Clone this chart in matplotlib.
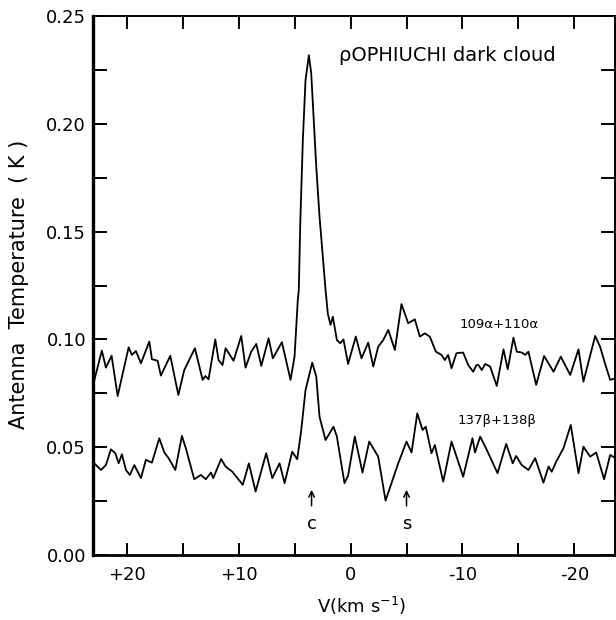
import numpy as np
import matplotlib.pyplot as plt
from matplotlib.ticker import MultipleLocator

# velocity (km/s) and antenna temperature (K)
v_alpha = [23.04, 22.21, 21.85, 21.34, 20.80, 19.82, 19.53, 19.17, 18.72, 17.97,
           17.74, 17.23, 16.94, 16.10, 15.38, 14.85, 13.90, 13.21, 12.97, 12.68,
           12.08, 11.79, 11.43, 11.16, 10.45, 9.76, 9.38, 8.87, 8.42, 7.97,
           7.32, 6.94, 6.13, 5.36, 5.00, 4.71, 4.62, 4.49, 4.26, 4.02,
           3.72, 3.51, 3.06, 2.77, 2.23, 2.03, 1.79, 1.58, 1.22, 0.92,
           0.63, 0.22, -0.47, -0.98, -1.58, -2.03, -2.47, -2.92, -3.37, -3.96,
           -4.55, -5.15, -5.74, -6.19, -6.63, -7.08, -7.62, -8.13, -8.42, -8.72,
           -9.02, -9.46, -10.06, -10.51, -10.96, -11.25, -11.43, -11.72, -12.03, -12.47,
           -13.06, -13.66, -14.04, -14.55, -14.85, -15.29, -15.60, -15.89, -16.58, -17.29,
           -18.13, -18.78, -19.62, -20.36, -20.80, -21.85, -22.29, -22.74, -23.19, -23.66]
t_alpha = [0.0779, 0.0948, 0.0869, 0.0924, 0.0737, 0.0963, 0.0928, 0.0946, 0.0889, 0.0990,
           0.0908, 0.0901, 0.0832, 0.0924, 0.0742, 0.0858, 0.0959, 0.0812, 0.0830, 0.0815,
           0.1000, 0.0904, 0.0881, 0.0959, 0.0901, 0.1016, 0.0869, 0.0943, 0.0979, 0.0877,
           0.1005, 0.0912, 0.0987, 0.0812, 0.0920, 0.1183, 0.1229, 0.1538, 0.1925, 0.2203,
           0.2319, 0.2234, 0.1800, 0.1570, 0.1229, 0.1120, 0.1067, 0.1105, 0.0997, 0.0982,
           0.1000, 0.0886, 0.1013, 0.0912, 0.0985, 0.0874, 0.0966, 0.0997, 0.1044, 0.0951,
           0.1164, 0.1075, 0.1093, 0.1013, 0.1028, 0.1013, 0.0943, 0.0928, 0.0904, 0.0928,
           0.0866, 0.0936, 0.0939, 0.0881, 0.0850, 0.0881, 0.0881, 0.0858, 0.0886, 0.0874,
           0.0784, 0.0954, 0.0861, 0.1008, 0.0943, 0.0939, 0.0928, 0.0943, 0.0789, 0.0923,
           0.0850, 0.0920, 0.0835, 0.0954, 0.0804, 0.1016, 0.0966, 0.0886, 0.0812, 0.0820]

v_beta = [23.04, 22.29, 21.85, 21.40, 21.01, 20.71, 20.42, 20.06, 19.71, 19.31,
          18.72, 18.28, 17.74, 17.08, 16.63, 16.25, 15.65, 15.06, 14.71, 13.96,
          13.37, 12.92, 12.47, 12.26, 11.56, 11.16, 10.56, 9.62, 9.08, 8.48,
          7.53, 6.99, 6.34, 5.89, 5.21, 4.76, 4.40, 4.02, 3.42, 3.06,
          2.77, 2.23, 1.52, 1.22, 0.54, 0.22, -0.38, -1.07, -1.67, -2.47,
          -3.13, -4.26, -5.00, -5.45, -5.96, -6.43, -6.72, -7.23, -7.53, -8.28,
          -9.02, -10.06, -10.89, -11.12, -11.58, -12.17, -13.13, -13.90, -14.49, -14.79,
          -15.29, -15.89, -16.49, -17.23, -17.68, -17.97, -18.37, -19.02, -19.67, -20.36,
          -20.80, -21.40, -21.94, -22.65, -23.19, -23.66]
t_beta = [0.0433, 0.0394, 0.0417, 0.0490, 0.0472, 0.0425, 0.0467, 0.0394, 0.0371, 0.0417,
          0.0356, 0.0441, 0.0428, 0.0541, 0.0475, 0.0449, 0.0394, 0.0552, 0.0495, 0.0351,
          0.0371, 0.0351, 0.0382, 0.0356, 0.0445, 0.0410, 0.0386, 0.0325, 0.0425, 0.0294,
          0.0472, 0.0356, 0.0425, 0.0333, 0.0479, 0.0444, 0.0580, 0.0765, 0.0892, 0.0827,
          0.0641, 0.0533, 0.0595, 0.0549, 0.0333, 0.0367, 0.0549, 0.0382, 0.0526, 0.0456,
          0.0252, 0.0425, 0.0526, 0.0475, 0.0657, 0.0580, 0.0595, 0.0472, 0.0510, 0.0340,
          0.0526, 0.0363, 0.0541, 0.0475, 0.0549, 0.0487, 0.0379, 0.0515, 0.0425, 0.0459,
          0.0417, 0.0394, 0.0449, 0.0335, 0.0410, 0.0386, 0.0433, 0.0495, 0.0603, 0.0379,
          0.0502, 0.0456, 0.0475, 0.0351, 0.0464, 0.0449]

x_ticks = [20, 10, 0, -10, -20]
x_ticklabels = ['+20', '+10', '0', '-10', '-20']
y_ticks = [0.00, 0.05, 0.10, 0.15, 0.20, 0.25]

markers = ['c', 's']
marker_v = [3.48, -5.0]

fig = plt.figure(figsize=(6.16, 6.2), dpi=100)
ax = fig.add_axes([0.151, 0.105, 0.847, 0.869])

ax.plot(v_alpha, t_alpha, color='black', lw=1.3)
ax.plot(v_beta, t_beta, color='black', lw=1.3)

ax.set_xlim(23.0, -23.6)
ax.set_ylim(0, 0.25)

ax.set_xticks(x_ticks)
ax.set_xticklabels(x_ticklabels)
ax.xaxis.set_minor_locator(MultipleLocator(5))
ax.set_yticks(y_ticks)
ax.set_yticklabels([f'{y:.2f}' for y in y_ticks])
ax.yaxis.set_minor_locator(MultipleLocator(0.025))

ax.tick_params(axis='both', which='both', direction='in', top=True, right=True,
               width=1.4, labelsize=13)
ax.tick_params(axis='x', which='both', length=9, pad=8)
ax.tick_params(axis='y', which='both', length=10, pad=5)

for side, w in [('left', 2.4), ('bottom', 2.0), ('top', 1.4), ('right', 1.4)]:
    ax.spines[side].set_linewidth(w)

ax.set_xlabel('V(km s$^{-1}$)', fontsize=13, labelpad=8)
ax.xaxis.label.set_x(0.515)
ax.set_ylabel('Antenna  Temperature  ( K )', fontsize=15)
ax.yaxis.set_label_coords(-0.122, 0.503)

ax.text(-8.66, 0.2319, 'ρOPHIUCHI dark cloud', fontsize=14, ha='center', va='center')
ax.text(-13.3, 0.107, '109α+110α', fontsize=9.5, ha='center', va='center')
ax.text(-13.1, 0.0625, '137β+138β', fontsize=9.5, ha='center', va='center')

for m, v in zip(markers, marker_v):
    ax.annotate('', xy=(v, 0.0315), xytext=(v, 0.0215),
                arrowprops=dict(arrowstyle='->', color='black', lw=1.1))
    ax.text(v, 0.0145, m, fontsize=13, ha='center', va='center')

fig.savefig('out.png', dpi=100)
